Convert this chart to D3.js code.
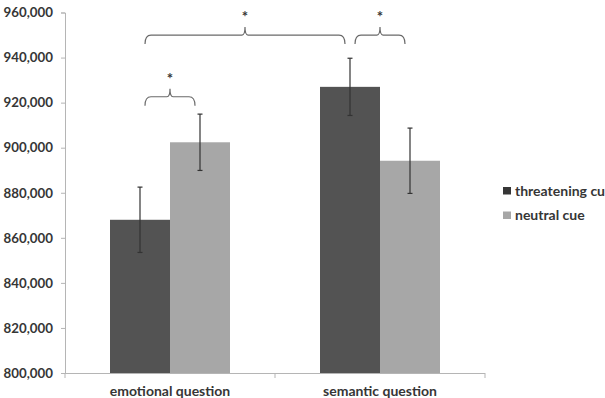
<!DOCTYPE html>
<html>
<head>
<meta charset="utf-8">
<script src="https://cdn.jsdelivr.net/npm/d3@7"></script>
<style>
  body { margin: 0; background: #fff; }
  text { font-family: Lato, "Open Sans", sans-serif; font-weight: bold; fill: #363636; }
</style>
</head>
<body>
<div id="container"></div>
<script>
/* DATA */
const categories = ["emotional question", "semantic question"];
const series = ["threatening cue", "neutral cue"];
const means = [[868000, 902400], [927000, 894200]];
const errors = [[14500, 12500], [12700, 14500]];
const yTicks = [800000, 820000, 840000, 860000, 880000, 900000, 920000, 940000, 960000];
// significance brackets: from [cat, series] to [cat, series] at a level
const brackets = [
  { from: [0, 0], to: [0, 1], level: 922600 },
  { from: [0, 0], to: [1, 0], level: 950000 },
  { from: [1, 0], to: [1, 1], level: 950000 }
];

/* CONSTANTS */
const width = 605, height = 398;
const colors = ["#535353", "#a7a7a7"];

const svg = d3.select("#container")
  .append("svg")
  .attr("width", width)
  .attr("height", height);

/* SCALES */
const xScale = d3.scaleBand()
  .domain(categories)
  .range([65, 485]);

const xInner = d3.scaleBand()
  .domain(series)
  .range([0, xScale.bandwidth()])
  .paddingOuter(0.75);

const yScale = d3.scaleLinear()
  .domain([800000, 960000])
  .range([373, 12.5]);

/* AXES */
const yAxis = svg.append("g")
  .attr("transform", "translate(65,0)")
  .call(d3.axisLeft(yScale).tickValues(yTicks).tickSize(4).tickPadding(8)
    .tickFormat(d3.format(",")));
yAxis.select(".domain").attr("stroke", "#b5b5b5");
yAxis.selectAll(".tick line").attr("stroke", "#b5b5b5");
yAxis.selectAll(".tick text").attr("font-size", 13.3).attr("fill", "#363636")
  .attr("font-family", "Lato, 'Open Sans', sans-serif");

// x axis line with ticks at band edges
svg.append("line")
  .attr("x1", 65).attr("x2", 485)
  .attr("y1", 373.5).attr("y2", 373.5)
  .attr("stroke", "#b5b5b5");
svg.selectAll(".xtick")
  .data([65, 275, 485])
  .join("line")
  .attr("class", "xtick")
  .attr("x1", d => d).attr("x2", d => d)
  .attr("y1", 373).attr("y2", 378)
  .attr("stroke", "#b5b5b5");

svg.selectAll(".xlabel")
  .data(categories)
  .join("text")
  .attr("class", "xlabel")
  .attr("x", d => xScale(d) + xScale.bandwidth() / 2)
  .attr("y", 396)
  .attr("text-anchor", "middle")
  .attr("font-size", 14)
  .text(d => d);

/* BARS */
const groups = svg.selectAll(".group")
  .data(categories)
  .join("g")
  .attr("class", "group")
  .attr("transform", d => `translate(${xScale(d)},0)`);

groups.selectAll("rect")
  .data((d, i) => series.map((s, j) => ({ s, j, v: means[i][j], e: errors[i][j] })))
  .join("rect")
  .attr("x", d => xInner(d.s))
  .attr("y", d => yScale(d.v))
  .attr("width", xInner.bandwidth())
  .attr("height", d => yScale(800000) - yScale(d.v))
  .attr("fill", d => colors[d.j]);

// error bars
const eb = groups.selectAll(".err")
  .data((d, i) => series.map((s, j) => ({ s, v: means[i][j], e: errors[i][j] })))
  .join("g")
  .attr("class", "err")
  .attr("transform", d => `translate(${xInner(d.s) + xInner.bandwidth() / 2},0)`);
eb.append("line")
  .attr("y1", d => yScale(d.v + d.e)).attr("y2", d => yScale(d.v - d.e))
  .attr("stroke", "#333").attr("stroke-width", 1.2);
eb.append("line")
  .attr("x1", -2.5).attr("x2", 2.5)
  .attr("y1", d => yScale(d.v + d.e)).attr("y2", d => yScale(d.v + d.e))
  .attr("stroke", "#333").attr("stroke-width", 1.2);
eb.append("line")
  .attr("x1", -2.5).attr("x2", 2.5)
  .attr("y1", d => yScale(d.v - d.e)).attr("y2", d => yScale(d.v - d.e))
  .attr("stroke", "#333").attr("stroke-width", 1.2);

/* SIGNIFICANCE BRACKETS */
const barCenter = ([c, s]) => xScale(categories[c]) + xInner(series[s]) + xInner.bandwidth() / 2;

function bracePath(x1, x2, y) {
  const xm = (x1 + x2) / 2;
  return `M${x1},${y + 9} Q${x1},${y} ${x1 + 6},${y} L${xm - 3},${y} Q${xm},${y} ${xm},${y - 8}`
    + ` Q${xm},${y} ${xm + 3},${y} L${x2 - 6},${y} Q${x2},${y} ${x2},${y + 9}`;
}

brackets.forEach(b => {
  const x1 = barCenter(b.from) + 5;
  const x2 = barCenter(b.to) - 5;
  const y = yScale(b.level);
  svg.append("path")
    .attr("d", bracePath(x1, x2, y))
    .attr("fill", "none")
    .attr("stroke", "#6a6a6a")
    .attr("stroke-width", 1.2);
  svg.append("text")
    .attr("x", (x1 + x2) / 2)
    .attr("y", y - 13)
    .attr("text-anchor", "middle")
    .attr("font-size", 15)
    .text("*");
});

/* LEGEND */
const legend = svg.selectAll(".legend")
  .data(series)
  .join("g")
  .attr("class", "legend")
  .attr("transform", (d, i) => `translate(503,${187 + i * 24.5})`);
legend.append("rect")
  .attr("width", 8).attr("height", 7.5)
  .attr("fill", (d, i) => i === 0 ? "#363636" : colors[1]);
legend.append("text")
  .attr("x", 12).attr("y", 8.5)
  .attr("font-size", 14)
  .text(d => d);
</script>
</body>
</html>
